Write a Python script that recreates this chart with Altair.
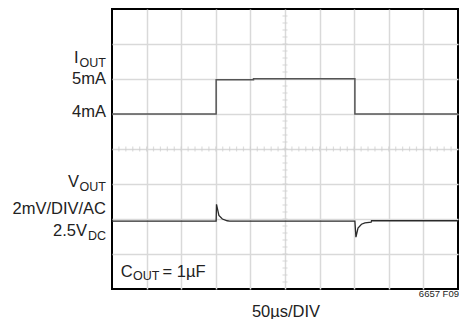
import altair as alt
import numpy as np
import pandas as pd

# ---- trace data (x in divisions, y in divisions from bottom) ----
iout_x = [0, 3.01, 3.01, 4.09, 4.09, 7.02, 7.02, 10]
iout_y = [5.0, 5.0, 5.98, 5.98, 6.01, 6.01, 5.0, 5.0]

vout_x = [0, 3.01, 3.02, 3.09, 3.19, 3.33, 3.40, 7.02, 7.05, 7.11, 7.21, 7.31, 7.49, 7.50, 10]
vout_y = [1.94, 1.94, 2.42, 2.10, 2.00, 1.95, 1.94, 1.94, 1.48, 1.74, 1.85, 1.89, 1.91, 1.95, 1.95]

x_grid = [1, 2, 3, 4, 5, 6, 7, 8, 9]
y_grid = [1, 2, 3, 4, 5, 6, 7]
x_minor = list(np.round(np.arange(0.2, 10.0, 0.2), 2))
y_minor = list(np.round(np.arange(0.2, 8.0, 0.2), 2))

FONT = "Liberation Sans, Arial, sans-serif"
MAIN = 16.5
SUB = 12.5
TXT = "#222222"
GRID = "#d9d9d9"

W, H = 346, 280

xs = alt.Scale(domain=[0, 10], nice=False, zero=False)
ys = alt.Scale(domain=[0, 8], nice=False, zero=False)
xax = alt.Axis(values=x_grid, grid=True, labels=False, ticks=False, domain=False, title=None,
               gridColor=GRID, gridWidth=1.5)
yax = alt.Axis(values=y_grid, grid=True, labels=False, ticks=False, domain=False, title=None,
               gridColor=GRID, gridWidth=1.5)

iout_df = pd.DataFrame({"x": iout_x, "y": iout_y, "o": range(len(iout_x))})
vout_df = pd.DataFrame({"x": vout_x, "y": vout_y, "o": range(len(vout_x))})

base_grid = alt.Chart(pd.DataFrame({"x": [0], "y": [0]})).mark_point(opacity=0).encode(
    x=alt.X("x:Q", scale=xs, axis=xax),
    y=alt.Y("y:Q", scale=ys, axis=yax),
)

hticks = alt.Chart(pd.DataFrame({"x": x_minor, "y": [4] * len(x_minor)})).mark_tick(
    orient="vertical", size=5, thickness=1.2, color="#cfcfcf"
).encode(x=alt.X("x:Q", scale=xs), y=alt.Y("y:Q", scale=ys))

vticks = alt.Chart(pd.DataFrame({"y": y_minor, "x": [5] * len(y_minor)})).mark_tick(
    orient="horizontal", size=5, thickness=1.2, color="#cfcfcf"
).encode(x=alt.X("x:Q", scale=xs), y=alt.Y("y:Q", scale=ys))

iout_line = alt.Chart(iout_df).mark_line(color="#555555", strokeWidth=1.5).encode(
    x=alt.X("x:Q", scale=xs), y=alt.Y("y:Q", scale=ys), order="o:Q"
)
vout_line = alt.Chart(vout_df).mark_line(color="#2a2a2a", strokeWidth=1.3).encode(
    x=alt.X("x:Q", scale=xs), y=alt.Y("y:Q", scale=ys), order="o:Q"
)

one = alt.Data(values=[{"a": 1}])


def txt(t, x, y, size=MAIN, align="right"):
    return alt.Chart(one).mark_text(
        text=t, font=FONT, fontSize=size, color=TXT, align=align, baseline="alphabetic"
    ).encode(x=alt.value(x), y=alt.value(y))


texts = [
    txt("I", -33.5, 54),
    txt("OUT", -6, 58, SUB),
    txt("5mA", -6, 75),
    txt("4mA", -6, 108),
    txt("V", -33, 178),
    txt("OUT", -6, 182, SUB),
    txt("2mV/DIV/AC", -6, 205),
    txt("2.5V", -25, 227),
    txt("DC", -6, 231, SUB),
    txt("C", 8.7, 267.7, MAIN, "left"),
    txt("OUT", 21, 271, SUB, "left"),
    txt("= 1µF", 50.5, 267.7, MAIN, "left"),
    txt("50µs/DIV", 174, 307.7, MAIN, "center"),
    txt("6657 F09", 347, 288, 9.5, "right"),
]

chart = alt.layer(base_grid, hticks, vticks, iout_line, vout_line, *texts).properties(
    width=W, height=H,
    autosize=alt.AutoSizeParams(type="none"),
    padding={"left": 104, "top": 1, "right": 1, "bottom": 30},
).configure_view(stroke="black", strokeWidth=2)

chart.save("out.html", embed_options={"renderer": "svg", "actions": False})
